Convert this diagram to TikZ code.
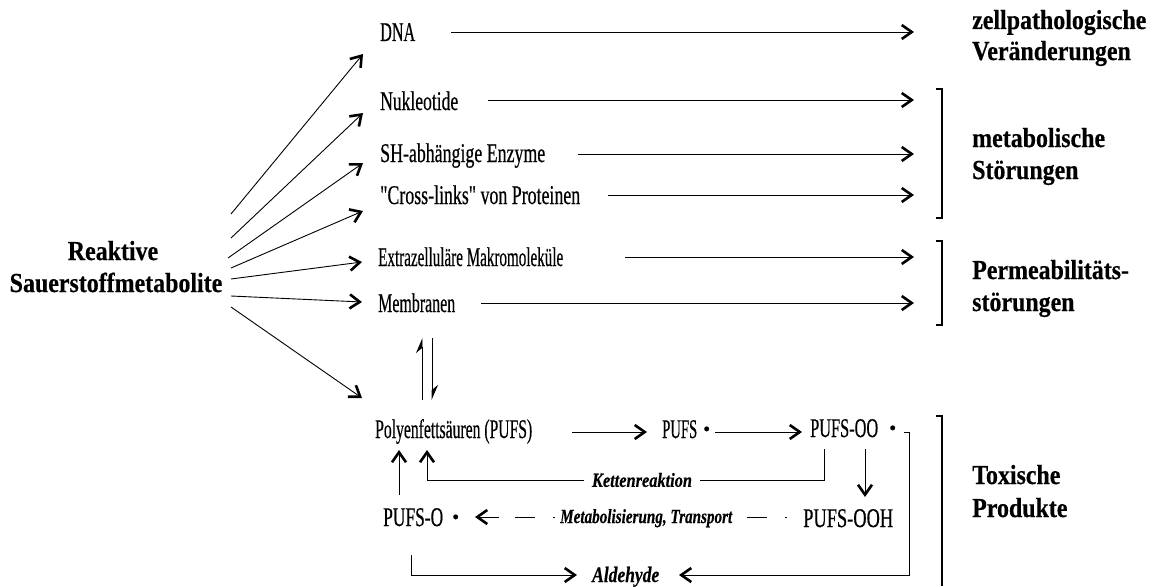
\documentclass[tikz,border=0pt]{standalone}
\usepackage{fontspec}
\setmainfont{Liberation Serif}
\newfontfamily\regfont{Liberation Serif}[FakeBold=0.6]
\newfontfamily\boldfont{Liberation Serif Bold}[FakeBold=0.5]
\newfontfamily\emfont{Liberation Serif Bold Italic}[FakeBold=0.4]
\usepackage{graphicx}
\usetikzlibrary{arrows.meta}
\newcommand{\fw}[2]{\resizebox{#1pt}{\height}{#2}}
\newcommand{\bsq}[1]{\scalebox{0.87}[1]{#1}}
\newcommand{\bdot}{{\fontsize{20}{20}\selectfont\raisebox{2.5pt}{•}}}
\newcommand{\qd}{\XeTeXglyph\XeTeXglyphindex "quotedbl"\relax}
\tikzset{
  txt/.style={inner sep=0pt, anchor=base west, font=\regfont\fontsize{27}{30}\selectfont},
  lbl/.style={inner sep=0pt, anchor=base west, font=\boldfont\fontsize{27.5}{30}\selectfont},
  srclbl/.style={inner sep=0pt, anchor=base, font=\boldfont\fontsize{27.5}{30}\selectfont},
  emlbl/.style={inner ysep=1pt, inner xsep=2pt, fill=white, font=\emfont\fontsize{20}{22}\selectfont},
  ln/.style={line width=0.9pt},
  arr/.style={ln, -{Straight Barb[length=10pt,width=14pt,line width=2.6pt]}},
  harp/.style={ln, -{Stealth[harpoon,length=14pt,width=12pt,inset=5pt]}},
  brk/.style={line width=1.1pt},
}
\begin{document}
\begin{tikzpicture}[x=1pt,y=-1pt]
\useasboundingbox (0,0) rectangle (1155,586);

% source label
\node[srclbl] (src1) at (113,260) {\bsq{Reaktive}};
\node[srclbl] (src2) at (116,292) {\bsq{Sauerstoffmetabolite}};

% targets (upper)
\node[txt] (dna) at (380,41) {\fw{35}{DNA}};
\node[txt] (nuk) at (380,110) {\fw{78}{Nukleotide}};
\node[txt] (sh) at (380,162) {\fw{165}{SH-abhängige Enzyme}};
\node[txt] (cross) at (380,204) {\fw{200}{\qd Cross-links\qd{} von Proteinen}};
\node[txt] (extra) at (378,266) {\fw{185}{Extrazelluläre Makromoleküle}};
\node[txt] (mem) at (378,312) {\fw{77}{Membranen}};

% right labels
\node[lbl] (z1) at (972,29) {\bsq{zellpathologische}};
\node[lbl] (z2) at (972,60) {\bsq{Veränderungen}};
\node[lbl] (m1) at (972,147) {\bsq{metabolische}};
\node[lbl] (m2) at (972,179) {\bsq{Störungen}};
\node[lbl] (p1) at (972,279) {\bsq{Permeabilitäts-}};
\node[lbl] (p2) at (972,311) {\bsq{störungen}};
\node[lbl] (t1) at (972,484) {\bsq{Toxische}};
\node[lbl] (t2) at (972,517) {\bsq{Produkte}};

% fan arrows
\coordinate (s1) at (231,214); \coordinate (e1) at (363,54);
\coordinate (s2) at (231,238); \coordinate (e2) at (363,113);
\coordinate (s3) at (228,258); \coordinate (e3) at (363,163);
\coordinate (s4) at (231,268); \coordinate (e4) at (363,211);
\coordinate (s5) at (231,279); \coordinate (e5) at (362,262);
\coordinate (s6) at (231,296); \coordinate (e6) at (362,302);
\coordinate (s7) at (231,307); \coordinate (e7) at (362,398);
\foreach \i in {1,...,7} {\draw[arr] (s\i) -- (e\i);}

% horizontal arrows to outcomes
\coordinate (h1a) at (451,32);  \coordinate (h1b) at (914,32);
\coordinate (h2a) at (488,100); \coordinate (h2b) at (914,100);
\coordinate (h3a) at (578,154); \coordinate (h3b) at (914,154);
\coordinate (h4a) at (608,195); \coordinate (h4b) at (914,195);
\coordinate (h5a) at (625,257); \coordinate (h5b) at (914,257);
\coordinate (h6a) at (481,303); \coordinate (h6b) at (914,303);
\foreach \i in {1,...,6} {\draw[arr] (h\i a) -- (h\i b);}

% brackets
\draw[brk] (936,89) -- (942,89) -- (942,218) -- (936,218);
\draw[brk] (936,241) -- (942,241) -- (942,325) -- (936,325);
\draw[brk] (936,416) -- (942,416) -- (942,586);

% lower part
\node[txt] (pufa) at (375,438) {\fw{157}{Polyenfettsäuren (PUFS)}};
\node[txt] (pufs) at (662,438) {\fw{35}{PUFS}\hspace{6pt}\bdot};
\node[txt] (pufsoo) at (810,437) {\fw{68}{PUFS-OO}\hspace{11pt}\bdot};
\node[txt] (pufso) at (383,526) {\fw{60}{PUFS-O}\hspace{9pt}\bdot};
\node[txt] (pufsooh) at (803,527) {\fw{90}{PUFS-OOH}};

% equilibrium membranes <-> PUFA
\coordinate (eqa) at (422,400); \coordinate (eqb) at (422,338);
\coordinate (eqc) at (432,338); \coordinate (eqd) at (432,400);
\draw[harp] (eqa) -- (eqb);
\draw[harp] (eqc) -- (eqd);

% chain
\coordinate (c1a) at (572,432); \coordinate (c1b) at (647,432);
\coordinate (c2a) at (715,432); \coordinate (c2b) at (802,432);
\draw[arr] (c1a) -- (c1b);
\draw[arr] (c2a) -- (c2b);
\coordinate (dnA) at (865,449); \coordinate (dnB) at (865,497);
\draw[arr] (dnA) -- (dnB);

% Kettenreaktion loop
\coordinate (k1) at (824,449); \coordinate (k2) at (427,450);
\draw[arr] (k1) -- (824,480) -- (427,480) -- (k2);
\node[emlbl, inner xsep=8pt] (ketten) at (642,480) {\fw{100}{Kettenreaktion}};

% PUFS-O up to PUFA
\coordinate (u1) at (399,495); \coordinate (u2) at (399,450);
\draw[arr] (u1) -- (u2);

% Metabolisierung, Transport
\coordinate (mt1) at (787,517); \coordinate (mt2) at (499,517); \coordinate (mt3) at (475,517);
\draw[ln, dash pattern=on 2pt off 18pt on 20pt off 18pt] (mt1) -- (mt2);
\draw[arr] (mt2) -- (mt3);
\node[emlbl, anchor=base west, inner xsep=2pt] (metab) at (558,523) {\fw{172}{Metabolisierung, Transport}};

% Aldehyde
\node[txt, font=\emfont\fontsize{22}{24}\selectfont] (ald) at (592,582) {\fw{67}{Aldehyde}};
\coordinate (r0) at (904,432); \coordinate (ra) at (679,575);
\draw[arr] (r0) -- (909,432) -- (909,575) -- (ra);
\coordinate (l0) at (411,555); \coordinate (la) at (577,575);
\draw[arr] (l0) -- (411,575) -- (la);
\end{tikzpicture}
\end{document}
